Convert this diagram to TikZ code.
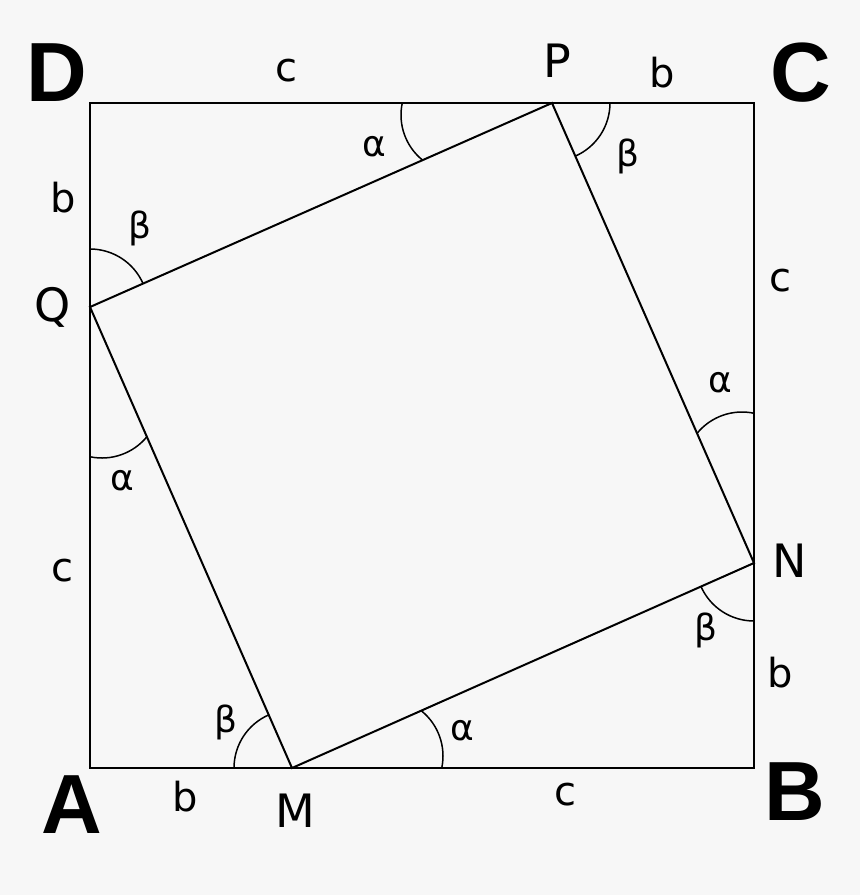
\documentclass[tikz,border=0pt]{standalone}
\usepackage{fontspec}
\setmainfont{DejaVu Sans}
\newfontfamily\cornerfont{Liberation Sans}
\usetikzlibrary{positioning}
\definecolor{paper}{HTML}{F7F7F7}

\begin{document}
\begin{tikzpicture}[x=0.5pt,y=-0.5pt,
    edge/.style={line width=1pt},
    anglearc/.style={line width=0.75pt},
    corner/.style={inner sep=0pt,font=\cornerfont\bfseries\fontsize{42}{48}\selectfont},
    vertex/.style={inner sep=0pt,font=\fontsize{23}{27}\selectfont},
    side/.style={inner sep=0pt,font=\fontsize{20}{24}\selectfont},
    greek/.style={inner sep=0pt,font=\fontsize{18}{22}\selectfont}]

      % Background
      \fill[paper] (0,0) rectangle (860,895);

      % Define square coordinates
      \coordinate (A) at (90,768);
      \coordinate (B) at (754,768);
      \coordinate (C) at (754,103);
      \coordinate (D) at (90,103);

      % Define inner square coordinates
      \coordinate (M) at (292,768);
      \coordinate (N) at (754,563);
      \coordinate (P) at (552,103);
      \coordinate (Q) at (90,307);

      % Draw both squares
      \draw[edge] (A) -- (B) -- (C) -- (D) -- cycle;
      \draw[edge] (M) -- (N) -- (P) -- (Q) -- cycle;

      % Beta arcs at the inner corners
      \draw[anglearc] ([shift={(0:58)}]P) arc[start angle=0,end angle=66.3,radius=58];
      \draw[anglearc] ([shift={(-90:58)}]Q) arc[start angle=-90,end angle=-23.8,radius=58];
      \draw[anglearc] ([shift={(180:58)}]M) arc[start angle=180,end angle=246.3,radius=58];
      \draw[anglearc] ([shift={(90:58)}]N) arc[start angle=90,end angle=156.1,radius=58];

      % Alpha arcs
      \coordinate (pa) at (459,115);
      \coordinate (qa) at (102,400);
      \coordinate (ma) at (385,756);
      \coordinate (na) at (742,470);
      \draw[anglearc] ([shift={(191.9:58)}]pa) arc[start angle=191.9,end angle=128.9,radius=58];
      \draw[anglearc] ([shift={(101.9:58)}]qa) arc[start angle=101.9,end angle=38.9,radius=58];
      \draw[anglearc] ([shift={(11.9:58)}]ma) arc[start angle=11.9,end angle=-51.1,radius=58];
      \draw[anglearc] ([shift={(-78.1:58)}]na) arc[start angle=-78.1,end angle=-141.1,radius=58];

      % Label the corners
      \node[corner] (lA) at (72,805) {A};
      \node[corner] (lB) at (795,792) {B};
      \node[corner] (lC) at (801,73) {C};
      \node[corner] (lD) at (57,73) {D};
      \node[vertex] (lP) at (557,61) {P};
      \node[vertex] (lQ) at (53,307) {Q};
      \node[vertex] (lN) at (790,561) {N};
      \node[vertex] (lM) at (295,811) {M};

      % Label the sides
      \node[side] (sDP) at (286,71) {c};
      \node[side] (sPC) at (662,73) {b};
      \node[side] (sDQ) at (63,198) {b};
      \node[side] (sQA) at (62,571) {c};
      \node[side] (sCN) at (780,281) {c};
      \node[side] (sNB) at (780,673) {b};
      \node[side] (sAM) at (185,797) {b};
      \node[side] (sMB) at (565,795) {c};

      % Label the angles
      \node[greek] (aP) at (374,147) {α};
      \node[greek] (bP) at (628,156) {β};
      \node[greek] (bQ) at (140,228) {β};
      \node[greek] (aQ) at (122,481) {α};
      \node[greek] (aN) at (720,383) {α};
      \node[greek] (bN) at (706,630) {β};
      \node[greek] (bM) at (226,722) {β};
      \node[greek] (aM) at (462,731) {α};
    \end{tikzpicture}
\end{document}
